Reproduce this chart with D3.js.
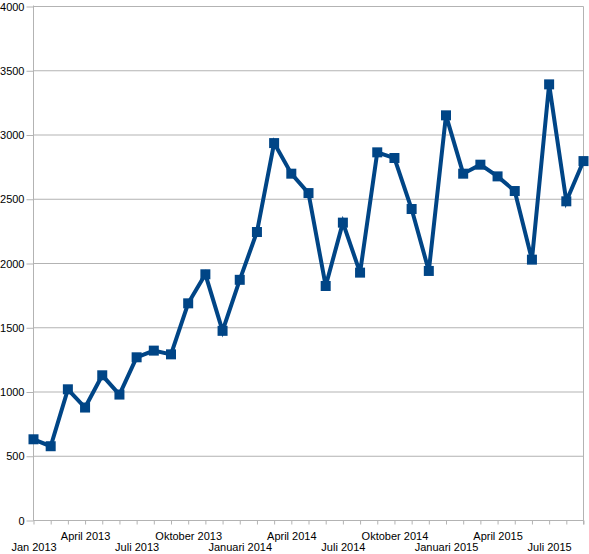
<!DOCTYPE html>
<html>
<head>
<meta charset="utf-8">
<script src="https://cdn.jsdelivr.net/npm/d3@7"></script>
<style>
  html, body { margin: 0; padding: 0; background: #fff; }
  svg { display: block; }
  text { font-family: "Liberation Sans", Arial, sans-serif; font-size: 11px; fill: #000; }
</style>
</head>
<body>
<svg id="chart" width="589" height="554"></svg>
<script>
const months = [
  "Jan 2013","Feb 2013","Mrt 2013","April 2013","Mei 2013","Juni 2013","Juli 2013","Aug 2013","Sep 2013",
  "Oktober 2013","Nov 2013","Dec 2013","Januari 2014","Feb 2014","Mrt 2014","April 2014","Mei 2014","Juni 2014",
  "Juli 2014","Aug 2014","Sep 2014","Oktober 2014","Nov 2014","Dec 2014","Januari 2015","Feb 2015","Mrt 2015",
  "April 2015","Mei 2015","Juni 2015","Juli 2015","Aug 2015","Sep 2015"
];
const values = [
  632, 578, 1021, 879, 1130, 980, 1270, 1322, 1293,
  1690, 1916, 1476, 1873, 2245, 2937, 2699, 2548, 1825,
  2318, 1929, 2865, 2821, 2424, 1942, 3153, 2699, 2769,
  2678, 2564, 2030, 3394, 2484, 2797
];
const shownLabels = ["Jan 2013","April 2013","Juli 2013","Oktober 2013","Januari 2014","April 2014",
  "Juli 2014","Oktober 2014","Januari 2015","April 2015","Juli 2015"];
const yTicks = [0, 500, 1000, 1500, 2000, 2500, 3000, 3500, 4000];

const svg = d3.select("#chart");
const x = d3.scalePoint().domain(months).range([33.5, 583.5]);
const y = d3.scaleLinear().domain([0, 4000]).range([520.5, 6.5]);
const grey = "#b3b3b3";
const blue = "#004586";

// horizontal grid lines
svg.append("g").selectAll("line").data(yTicks).join("line")
  .attr("x1", 33.5).attr("x2", 583.5)
  .attr("y1", d => y(d)).attr("y2", d => y(d))
  .attr("stroke", grey).attr("stroke-width", 1);

// y axis
const yAxis = svg.append("g").attr("transform", "translate(33.5,0)")
  .call(d3.axisLeft(y).tickValues(yTicks).tickSize(7).tickPadding(2).tickFormat(d3.format("d")));
yAxis.select(".domain").attr("stroke", grey).attr("d", "M0,5.5V520.5");
yAxis.selectAll(".tick line").attr("stroke", grey);
yAxis.selectAll(".tick text").attr("font-size", 11).attr("font-family", "Liberation Sans, Arial, sans-serif").attr("fill", "#000");

// x axis
const xAxis = svg.append("g").attr("transform", "translate(0,520.5)")
  .call(d3.axisBottom(x).tickSize(4).tickFormat(d => shownLabels.includes(d) ? d : ""));
xAxis.select(".domain").attr("stroke", grey).attr("d", "M33.5,0H583.5");
xAxis.selectAll(".tick line").attr("stroke", grey);
xAxis.selectAll(".tick text")
  .attr("font-size", 11).attr("font-family", "Liberation Sans, Arial, sans-serif").attr("fill", "#000")
  .attr("dy", null)
  .attr("y", d => (months.indexOf(d) % 6 === 0) ? 30.5 : 19.5);

// right border
svg.append("line").attr("x1", 583.5).attr("x2", 583.5).attr("y1", 6.5).attr("y2", 524.5)
  .attr("stroke", grey);

// series line
const line = d3.line().x(d => x(d.m)).y(d => y(d.v));
const data = months.map((m, i) => ({ m, v: values[i] }));
svg.append("path").datum(data)
  .attr("d", line).attr("fill", "none").attr("stroke", blue)
  .attr("stroke-width", 4).attr("stroke-linejoin", "miter");

// markers
const ms = 10;
svg.append("g").selectAll("rect").data(data).join("rect")
  .attr("x", d => x(d.m) - ms / 2).attr("y", d => y(d.v) - ms / 2)
  .attr("width", ms).attr("height", ms).attr("fill", blue);
</script>
</body>
</html>
